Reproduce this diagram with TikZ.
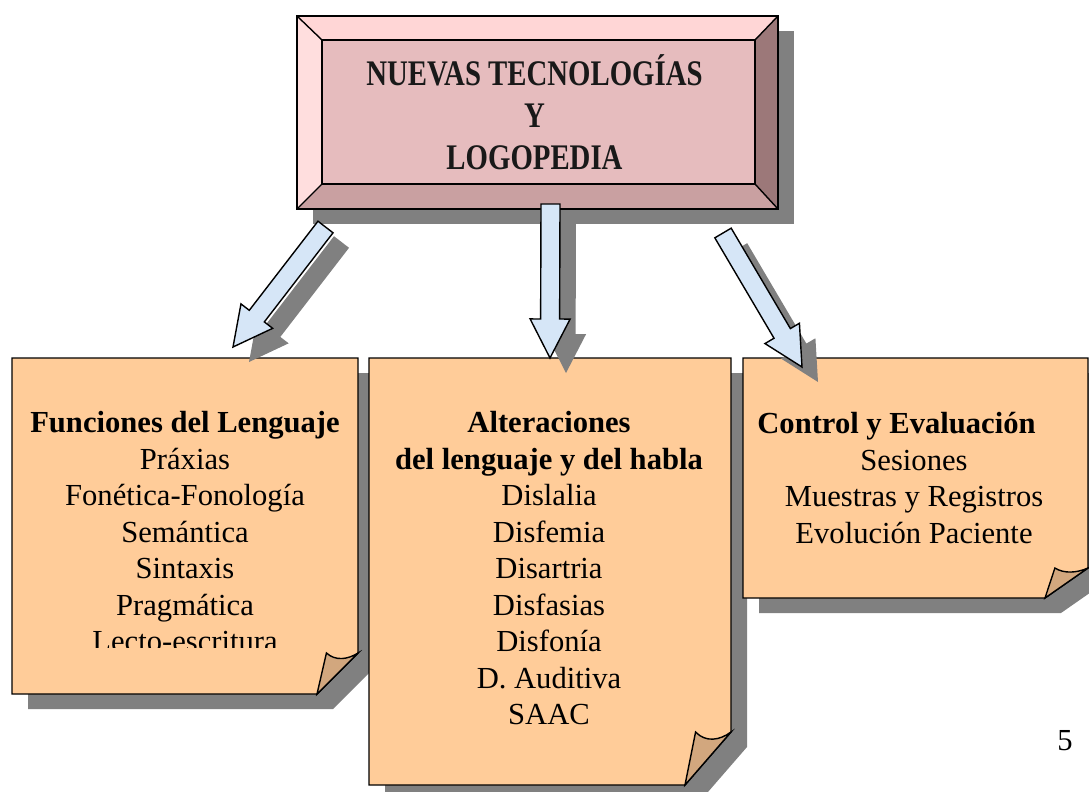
\documentclass[tikz,border=0pt]{standalone}
\usepackage{fontspec}
\setmainfont{Liberation Serif}
\newfontfamily\titlefont[FakeStretch=0.8]{Liberation Serif}
\usetikzlibrary{calc}
\tikzset{>=latex}

\definecolor{peach}{RGB}{255,204,153}
\definecolor{flapc}{RGB}{210,167,126}
\definecolor{pinkface}{RGB}{230,188,190}
\definecolor{pinktop}{RGB}{255,214,214}
\definecolor{pinkleft}{RGB}{255,222,222}
\definecolor{pinkright}{RGB}{156,120,121}
\definecolor{pinkbot}{RGB}{201,160,161}
\definecolor{arrowblue}{RGB}{214,230,247}
\definecolor{shade}{RGB}{128,128,128}

\tikzset{
  frame/.style={inner sep=0pt, outer sep=0pt},
  shadowed/.style={fill=shade, transform canvas={shift={(16pt,-15pt)}}},
  note/.style={fill=peach, draw=black},
  flap/.style={fill=flapc, draw=black},
  fat/.style={fill=arrowblue, draw=black},
  txt/.style={align=center, inner sep=0pt, font=\fontsize{30.6}{36.5}\selectfont},
}

% sticky note: #1 node, #2 fold width, #3 fold height
\newcommand\noteshadow[3]{%
  \fill[shadowed] (#1.north west) -- (#1.north east) -- ([yshift=#3pt]#1.south east)
    -- ([xshift=-#2pt]#1.south east) -- (#1.south west) -- cycle;}
\newcommand\notebox[3]{%
  \filldraw[note] (#1.north west) -- (#1.north east) -- ([yshift=#3pt]#1.south east)
    -- ([xshift=-#2pt]#1.south east) -- (#1.south west) -- cycle;
  \filldraw[flap] ([xshift=-#2pt]#1.south east) -- ([xshift=-0.77*#2pt, yshift=#3pt]#1.south east)
    .. controls ([xshift=-0.55*#2pt, yshift=0.8*#3pt]#1.south east) and ([xshift=-0.25*#2pt, yshift=0.84*#3pt]#1.south east)
    .. ([yshift=#3pt]#1.south east) -- cycle;}
% block arrow: #1 style, #2 tail, #3 tip
\newcommand\fatarrow[3]{%
  \path[#1] ($(#2)!9.5pt!-90:(#3)$) -- ($(#3)!39pt!(#2)!9.5pt!-90:(#3)$)
    -- ($(#3)!39pt!(#2)!20pt!-90:(#3)$) -- (#3) -- ($(#3)!39pt!(#2)!20pt!90:(#3)$)
    -- ($(#3)!39pt!(#2)!9.5pt!90:(#3)$) -- ($(#2)!9.5pt!90:(#3)$) -- cycle;}

\begin{document}
\begin{tikzpicture}[x=1pt, y=-1pt, line width=1.4pt]
    \useasboundingbox (0,0) rectangle (1089,792);
    \clip (0,0) rectangle (1089,792);

    \node[frame, minimum width=481pt, minimum height=193pt] (title) at (537.5,112.5) {};
    \node[frame, minimum width=346pt, minimum height=336pt] (fun) at (185,526) {};
    \node[frame, minimum width=362pt, minimum height=427pt] (alt) at (550,571.5) {};
    \node[frame, minimum width=345pt, minimum height=240pt] (ctrl) at (915.5,478) {};

    \noteshadow{fun}{41}{41}
    \noteshadow{alt}{46}{53}
    \noteshadow{ctrl}{43}{30}
    \notebox{fun}{41}{41}
    \notebox{alt}{46}{53}
    \notebox{ctrl}{43}{30}

    % bevelled title frame
    \fill[shadowed] (title.north west) rectangle (title.south east);
    \coordinate (ti1) at ([shift={(25,24)}]title.north west);
    \coordinate (ti2) at ([shift={(-23,24)}]title.north east);
    \coordinate (ti3) at ([shift={(-23,-25)}]title.south east);
    \coordinate (ti4) at ([shift={(25,-25)}]title.south west);
    \fill[pinkface] (ti1) rectangle (ti3);
    \fill[pinktop] (title.north west) -- (title.north east) -- (ti2) -- (ti1) -- cycle;
    \fill[pinkleft] (title.north west) -- (ti1) -- (ti4) -- (title.south west) -- cycle;
    \fill[pinkright] (title.north east) -- (title.south east) -- (ti3) -- (ti2) -- cycle;
    \fill[pinkbot] (title.south west) -- (ti4) -- (ti3) -- (title.south east) -- cycle;
    \draw (title.north west) rectangle (title.south east) (ti1) rectangle (ti3);
    \draw (title.north west) -- (ti1) (title.north east) -- (ti2)
          (title.south east) -- (ti3) (title.south west) -- (ti4);

    \coordinate (a1) at ([shift={(28.5,18)}]title.south west);
    \coordinate (b1) at ([shift={(48,-11)}]fun.north);
    \coordinate (a2) at ([shift={(13,-5)}]title.south);
    \coordinate (b2) at (alt.north);
    \coordinate (a3) at ([shift={(-55,24)}]title.south east);
    \coordinate (b3) at ([shift={(59,9)}]ctrl.north west);
    \foreach \s/\t in {a1/b1, a2/b2, a3/b3}
        \fatarrow{shadowed}{\s}{\t};
    \foreach \s/\t in {a1/b1, a2/b2, a3/b3}
        \fatarrow{fat}{\s}{\t};

    \node[align=center, inner sep=0pt, text=black!90,
          font=\titlefont\bfseries\fontsize{36}{42}\selectfont]
        (titletxt) at ([xshift=-3pt]title.center) {NUEVAS TECNOLOGÍAS\\Y\\LOGOPEDIA};

    \begin{scope}
        \clip (fun.north west) rectangle ([yshift=47pt]fun.south east);
        \node[txt] (funtxt) at ([yshift=-6pt]fun.center)
            {\textbf{Funciones del Lenguaje}\\Práxias\\Fonética-Fonología\\Semántica\\Sintaxis\\Pragmática\\Lecto-escritura};
    \end{scope}
    \node[txt] (alttxt) at ([shift={(-1,-3)}]alt.center)
        {\textbf{Alteraciones}\\\textbf{del lenguaje y del habla}\\Dislalia\\Disfemia\\Disartria\\Disfasias\\Disfonía\\D. Auditiva\\SAAC};
    \node[txt] (ctrltxt) at ([xshift=-1.5pt]ctrl.center)
        {\textbf{Control y Evaluación}\rule{35pt}{0pt}\\Sesiones\\Muestras y Registros\\Evolución Paciente};

    \node[txt] (pnum) at (1065,741) {5};
\end{tikzpicture}
\end{document}
